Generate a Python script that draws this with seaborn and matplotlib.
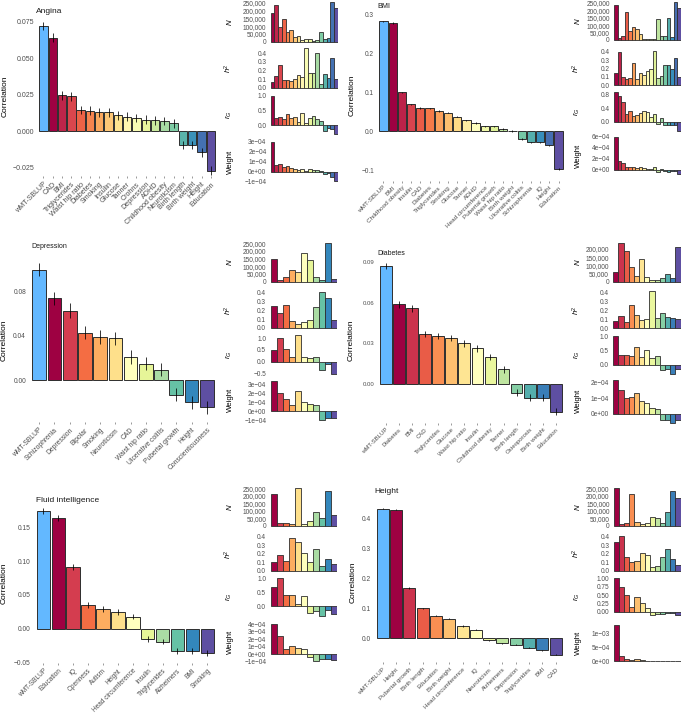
import matplotlib
matplotlib.use("Agg")
import matplotlib.pyplot as plt
import numpy as np
import pandas as pd
import seaborn as sns

# ---- data ---------------------------------------------------------------
angina_traits = ["wMT-SBLUP", "CAD", "BMI", "Triglycerides", "Waist hip ratio", "Diabetes",
                 "Smoking", "Insulin", "Glucose", "Tanner", "Crohns", "Depression", "ADHD",
                 "Childhood obesity", "Neuroticism", "Birth length", "Birth weight", "Height",
                 "Education"]
angina_cor = [0.072, 0.064, 0.0245, 0.024, 0.0145, 0.014, 0.013, 0.013, 0.011, 0.010, 0.009,
              0.008, 0.0075, 0.007, 0.0055, -0.0095, -0.0095, -0.0145, -0.027]
angina_err = [0.003, 0.003, 0.003, 0.003, 0.003, 0.003, 0.003, 0.003, 0.003, 0.003, 0.003,
              0.003, 0.003, 0.003, 0.003, 0.003, 0.003, 0.003, 0.003]
angina_n = [186000, 233000, 92000, 143000, 65000, 75000, 30000, 38000, 12000, 19000, 16000,
            7000, 12000, 63000, 20000, 26000, 253000, 215000]
angina_h2 = [0.065, 0.14, 0.26, 0.09, 0.085, 0.075, 0.10, 0.145, 0.12, 0.46, 0.17, 0.17, 0.40,
             0.04, 0.165, 0.115, 0.34, 0.10]
angina_rg = [1.0, 0.23, 0.26, 0.19, 0.36, 0.25, 0.27, 0.11, 0.40, 0.08, 0.23, 0.32, 0.19, 0.15,
             -0.20, -0.11, -0.12, -0.32]
angina_weight = [2.95e-4, 0.7e-4, 0.8e-4, 0.45e-4, 0.6e-4, 0.35e-4, 0.25e-4, 0.15e-4, 0.3e-4,
                 0.1e-4, 0.25e-4, 0.2e-4, 0.2e-4, 0.1e-4, -0.25e-4, -0.15e-4, -0.5e-4, -0.9e-4]

bmi_traits = ["wMT-SBLUP", "BMI", "Childhood obesity", "Insulin", "CAD", "Diabetes",
              "Triglycerides", "Smoking", "Glucose", "Tanner", "ADHD", "Head circumference",
              "Pubertal growth", "Waist hip ratio", "Birth weight", "Ulcerative colitis",
              "Schizophrenia", "IQ", "Height", "Education"]
bmi_cor = [0.281, 0.277, 0.099, 0.068, 0.059, 0.058, 0.051, 0.047, 0.037, 0.027, 0.020, 0.012,
           0.012, 0.005, 0.0, -0.020, -0.029, -0.029, -0.037, -0.097]
bmi_err = [0.002, 0.002, 0.002, 0.002, 0.002, 0.002, 0.002, 0.002, 0.002, 0.002, 0.002, 0.002,
           0.002, 0.002, 0.002, 0.002, 0.002, 0.002, 0.002, 0.002]
bmi_n = [232000, 12000, 30000, 185000, 62000, 90000, 73000, 38000, 10000, 5000, 8000, 10000,
         142000, 25000, 28000, 150000, 18000, 253000, 215000]
bmi_h2 = [0.14, 0.40, 0.10, 0.07, 0.09, 0.26, 0.07, 0.15, 0.12, 0.17, 0.19, 0.41, 0.09, 0.11,
          0.24, 0.245, 0.19, 0.33, 0.10]
bmi_rg = [0.87, 0.75, 0.60, 0.22, 0.33, 0.18, 0.20, 0.27, 0.32, 0.30, 0.16, 0.22, -0.05, 0.11,
          -0.08, -0.08, -0.10, -0.08, -0.25]
bmi_weight = [6.0e-4, 1.7e-4, 1.3e-4, 0.5e-4, 0.6e-4, 0.6e-4, 0.35e-4, 0.5e-4, 0.3e-4, 0.25e-4,
              0.2e-4, 0.5e-4, -0.3e-4, 0.2e-4, -0.2e-4, -0.3e-4, -0.1e-4, -0.2e-4, -0.8e-4]

depression_traits = ["wMT-SBLUP", "Schizophrenia", "Depression", "Bipolar", "Smoking",
                     "Neuroticism", "CAD", "Waist hip ratio", "Ulcerative colitis",
                     "Pubertal growth", "Height", "Conscientiousness"]
depression_cor = [0.100, 0.074, 0.063, 0.043, 0.039, 0.038, 0.021, 0.015, 0.0095, -0.013,
                  -0.020, -0.0245]
depression_err = [0.006, 0.006, 0.007, 0.006, 0.006, 0.006, 0.006, 0.006, 0.006, 0.006, 0.006,
                  0.006]
depression_n = [150000, 13000, 29000, 74000, 62000, 185000, 142000, 28000, 12000, 253000, 17000]
depression_h2 = [0.245, 0.17, 0.255, 0.075, 0.04, 0.065, 0.09, 0.24, 0.41, 0.34, 0.085]
depression_rg = [0.50, 1.0, 0.53, 0.22, 1.15, 0.22, 0.15, 0.20, -0.35, -0.10, -0.55]
depression_weight = [3.4e-4, 2.0e-4, 1.4e-4, 0.65e-4, 2.3e-4, 1.0e-4, 0.75e-4, 0.65e-4,
                     -1.0e-4, -0.75e-4, -0.8e-4]

diabetes_traits = ["wMT-SBLUP", "Diabetes", "BMI", "CAD", "Triglycerides", "Glucose",
                   "Waist hip ratio", "Insulin", "Childhood obesity", "Tanner", "Birth length",
                   "Osteoporosis", "Birth weight", "Education"]
diabetes_cor = [0.0873, 0.059, 0.056, 0.037, 0.0355, 0.034, 0.030, 0.0265, 0.020, 0.011,
                -0.0065, -0.010, -0.010, -0.0205]
diabetes_err = [0.0025, 0.0025, 0.0025, 0.0025, 0.0025, 0.0025, 0.0025, 0.0025, 0.0025, 0.0025,
                0.0025, 0.0025, 0.0025, 0.0025]
diabetes_n = [60000, 235000, 185000, 90000, 38000, 142000, 30000, 12000, 10000, 22000, 50000,
              26000, 215000]
diabetes_h2 = [0.085, 0.14, 0.07, 0.26, 0.145, 0.09, 0.105, 0.41, 0.12, 0.165, 0.13, 0.115, 0.10]
diabetes_rg = [1.0, 0.35, 0.35, 0.30, 0.61, 0.26, 0.50, 0.24, 0.29, -0.20, -0.15, -0.32, -0.15]
diabetes_weight = [2.15e-4, 1.5e-4, 1.0e-4, 1.1e-4, 1.3e-4, 0.8e-4, 0.7e-4, 0.4e-4, 0.3e-4,
                   -0.35e-4, -0.4e-4, -0.55e-4, -0.35e-4]

fluid_traits = ["wMT-SBLUP", "Education", "IQ", "Openness", "Autism", "Height",
                "Head circumference", "Insulin", "Triglycerides", "Alzheimers", "BMI", "Smoking"]
fluid_cor = [0.174, 0.164, 0.091, 0.035, 0.029, 0.025, 0.018, -0.015, -0.019, -0.033, -0.033,
             -0.036]
fluid_err = [0.004, 0.004, 0.004, 0.004, 0.004, 0.004, 0.004, 0.004, 0.004, 0.004, 0.004, 0.004]
fluid_n = [215000, 17000, 17000, 10000, 253000, 10000, 30000, 90000, 54000, 235000, 74000]
fluid_h2 = [0.10, 0.19, 0.11, 0.38, 0.34, 0.21, 0.10, 0.26, 0.055, 0.14, 0.075]
fluid_rg = [0.70, 1.0, 0.42, 0.42, 0.10, 0.37, -0.25, -0.18, -0.35, -0.13, -0.28]
fluid_weight = [4.1e-4, 2.4e-4, 0.75e-4, 1.1e-4, 0.85e-4, 0.7e-4, -0.4e-4, -0.85e-4, -0.65e-4,
                -0.65e-4, -0.7e-4]

height_traits = ["wMT-SBLUP", "Height", "Pubertal growth", "Birth length", "Education",
                 "Birth weight", "Head circumference", "IQ", "Neuroticism", "Alzheimers",
                 "Depression", "Triglycerides", "BMI", "CAD"]
height_cor = [0.432, 0.428, 0.168, 0.100, 0.075, 0.065, 0.041, 0.029, -0.007, -0.017, -0.021,
              -0.031, -0.040, -0.055]
height_err = [0.002, 0.002, 0.002, 0.002, 0.002, 0.002, 0.002, 0.002, 0.002, 0.002, 0.002,
              0.002, 0.002, 0.002]
height_n = [253000, 12000, 22000, 215000, 26000, 10000, 17000, 62000, 54000, 17000, 90000,
            235000, 185000]
height_h2 = [0.34, 0.41, 0.165, 0.10, 0.115, 0.21, 0.19, 0.04, 0.055, 0.165, 0.26, 0.14, 0.065]
height_rg = [1.0, 0.75, 0.51, 0.14, 0.44, 0.26, 0.11, -0.10, -0.07, -0.07, -0.04, -0.05, -0.10]
height_weight = [1.35e-3, 1.7e-4, 0.9e-4, 0.5e-4, 0.7e-4, 0.4e-4, 0.1e-4, -0.1e-4, -0.05e-4,
                 -0.05e-4, -0.05e-4, -0.1e-4, -0.1e-4]

# ---- layout (pixels, measured from the top-left of a 681x714 canvas) ----
W, H = 681, 714
SBLUP_BLUE = "#63B8FF"
EDGE = "#2E2E2E"
TICK_GREY = "#4D4D4D"
N_TICKS = [0, 50000, 100000, 150000, 200000, 250000]
H2_TICKS = [0.0, 0.1, 0.2, 0.3, 0.4]

panels = [
    dict(title="Angina", traits=angina_traits, cor=angina_cor, err=angina_err,
         n=angina_n, h2=angina_h2, rg=angina_rg, weight=angina_weight,
         main_x=(39.3, 215.0), main_cal=((0.075, 21.7), (-0.025, 167.7)),
         main_ylim=(-0.031, 0.0785), main_ticks=[-0.025, 0.0, 0.025, 0.05, 0.075], main_dec=3,
         title_xy=(36, 11.7), title_size=6.0, ylab_x=5, fs=5.0, xfs=5.1,
         side_x=(270.7, 337.7), side_lab_x=234,
         cal=dict(n=((250000, 2.7), (0, 41.7)), h2=((0.4, 53.3), (0, 87.7)),
                  rg=((1.0, 95.7), (0, 125)), weight=((3e-4, 141.3), (-1e-4, 182))),
         ticks=dict(n=N_TICKS, h2=H2_TICKS, rg=[0.0, 0.5, 1.0],
                    weight=[-1e-4, 0, 1e-4, 2e-4, 3e-4]), rg_dec=1),
    dict(title="BMI", traits=bmi_traits, cor=bmi_cor, err=bmi_err,
         n=bmi_n, h2=bmi_h2, rg=bmi_rg, weight=bmi_weight,
         main_x=(379.3, 562.7), main_cal=((0.3, 14.0), (-0.1, 170.0)),
         main_ylim=(-0.127, 0.31), main_ticks=[-0.1, 0.0, 0.1, 0.2, 0.3], main_dec=1,
         title_xy=(377.7, 6), title_size=5.2, ylab_x=352, fs=4.7, xfs=4.6,
         side_x=(614, 680.5), side_lab_x=582,
         cal=dict(n=((250000, 2.7), (0, 40)), h2=((0.4, 51.7), (0, 85)),
                  rg=((0.8, 94.7), (0, 122)), weight=((6e-4, 136.7), (0, 170))),
         ticks=dict(n=N_TICKS, h2=H2_TICKS, rg=[0.0, 0.4, 0.8],
                    weight=[0, 2e-4, 4e-4, 6e-4]), rg_dec=1),
    dict(title="Depression", traits=depression_traits, cor=depression_cor, err=depression_err,
         n=depression_n, h2=depression_h2, rg=depression_rg, weight=depression_weight,
         main_x=(32.3, 213.7), main_cal=((0.08, 291.7), (0.0, 380.3)),
         main_ylim=(-0.038, 0.111), main_ticks=[0.0, 0.04, 0.08], main_dec=2,
         title_xy=(31, 247), title_size=5.0, ylab_x=4, fs=4.8, xfs=4.9,
         side_x=(270.7, 336.7), side_lab_x=234,
         cal=dict(n=((250000, 243.3), (0, 281.7)), h2=((0.4, 292.7), (0, 328)),
                  rg=((1.0, 338.3), (-0.5, 373.3)), weight=((3e-4, 384.3), (-1e-4, 420))),
         ticks=dict(n=N_TICKS, h2=H2_TICKS, rg=[-0.5, 0.0, 0.5, 1.0],
                    weight=[-1e-4, 0, 1e-4, 2e-4, 3e-4]), rg_dec=1),
    dict(title="Diabetes", traits=diabetes_traits, cor=diabetes_cor, err=diabetes_err,
         n=diabetes_n, h2=diabetes_h2, rg=diabetes_rg, weight=diabetes_weight,
         main_x=(380.0, 561.7), main_cal=((0.09, 262.3), (0.0, 384.0)),
         main_ylim=(-0.0286, 0.093), main_ticks=[0.0, 0.03, 0.06, 0.09], main_dec=2,
         title_xy=(377.7, 253), title_size=5.0, ylab_x=351, fs=4.3, xfs=4.3,
         side_x=(613.3, 680.5), side_lab_x=582,
         cal=dict(n=((200000, 249), (0, 282)), h2=((0.4, 292.3), (0, 328.3)),
                  rg=((1.0, 336), (0, 364.7)), weight=((2e-4, 382.3), (0, 414))),
         ticks=dict(n=[0, 50000, 100000, 150000, 200000], h2=H2_TICKS, rg=[0.0, 0.5, 1.0],
                    weight=[0, 1e-4, 2e-4]), rg_dec=1),
    dict(title="Fluid intelligence", traits=fluid_traits, cor=fluid_cor, err=fluid_err,
         n=fluid_n, h2=fluid_h2, rg=fluid_rg, weight=fluid_weight,
         main_x=(36.7, 214.0), main_cal=((0.15, 527.3), (0.0, 628.7)),
         main_ylim=(-0.051, 0.184), main_ticks=[-0.05, 0.0, 0.05, 0.10, 0.15], main_dec=2,
         title_xy=(36, 500.7), title_size=6.0, ylab_x=4, fs=4.8, xfs=4.7,
         side_x=(270.7, 336.7), side_lab_x=234,
         cal=dict(n=((250000, 488.3), (0, 526)), h2=((0.4, 536.7), (0, 570.7)),
                  rg=((1.0, 578.3), (0, 606.3)), weight=((4e-4, 624.3), (-1e-4, 662))),
         ticks=dict(n=N_TICKS, h2=H2_TICKS, rg=[0.0, 0.5, 1.0],
                    weight=[-1e-4, 0, 1e-4, 2e-4, 3e-4, 4e-4]), rg_dec=1),
    dict(title="Height", traits=height_traits, cor=height_cor, err=height_err,
         n=height_n, h2=height_h2, rg=height_rg, weight=height_weight,
         main_x=(376.7, 561.7), main_cal=((0.4, 518.3), (0.0, 638.3)),
         main_ylim=(-0.08, 0.455), main_ticks=[0.0, 0.1, 0.2, 0.3, 0.4], main_dec=1,
         title_xy=(374, 491.7), title_size=6.0, ylab_x=352.7, fs=4.8, xfs=4.5,
         side_x=(614, 680.5), side_lab_x=582,
         cal=dict(n=((250000, 488.3), (0, 526)), h2=((0.4, 536.7), (0, 570.7)),
                  rg=((1.0, 578.3), (0, 611.7)), weight=((1e-3, 634), (0, 661))),
         ticks=dict(n=N_TICKS, h2=H2_TICKS, rg=[0.0, 0.25, 0.5, 0.75, 1.0],
                    weight=[0, 5e-4, 1e-3]), rg_dec=2),
]

SIDE_LABELS = dict(n="$N$", h2="$h^2$", rg="$r_G$", weight="Weight")


def spectral(k):
    return [matplotlib.colors.to_hex(c) for c in plt.get_cmap("Spectral")(np.linspace(0, 1, k))]


def minus(s):
    return s.replace("-", "\u2212")


def add_box(fig, bar_lo, bar_hi, n_bars, bar_width, cal, ylim):
    # x: bars span bar_lo..bar_hi in pixels; axis runs -0.6 .. n-0.4 like ggplot
    span = (n_bars - 1) + bar_width
    ppu = (bar_hi - bar_lo) / span
    left = bar_lo - (0.6 - bar_width / 2) * ppu
    right = bar_hi + (0.6 - bar_width / 2) * ppu
    (v1, p1), (v2, p2) = cal
    scale = (p2 - p1) / (v1 - v2)
    top = p1 - (ylim[1] - v1) * scale
    bottom = p2 + (v2 - ylim[0]) * scale
    ax = fig.add_axes([left / W, 1 - bottom / H, (right - left) / W, (bottom - top) / H])
    ax.set_xlim(-0.6, n_bars - 0.4)
    ax.set_ylim(*ylim)
    return ax, left, right


def style(ax, fs):
    sns.despine(ax=ax, left=True, bottom=True)
    ax.set_facecolor("white")
    ax.grid(False)
    ax.tick_params(axis="y", length=1.6, width=0.4, color=TICK_GREY, labelsize=fs,
                   labelcolor=TICK_GREY, pad=1.2)


sns.set_theme(style="white")
plt.rcParams["font.family"] = ["Liberation Sans", "DejaVu Sans"]
plt.rcParams["mathtext.fontset"] = "custom"
plt.rcParams["mathtext.it"] = "Liberation Sans:italic"
plt.rcParams["mathtext.rm"] = "Liberation Sans"

fig = plt.figure(figsize=(W / 100, H / 100), dpi=100)

for p in panels:
    traits = p["traits"]
    k = len(traits)

    # main correlation panel
    ax, left, right = add_box(fig, *p["main_x"], k, 0.9, p["main_cal"], p["main_ylim"])
    df = pd.DataFrame({"trait": traits, "cor": p["cor"]})
    sns.barplot(data=df, x="trait", y="cor", hue="trait", order=traits, hue_order=traits,
                palette=[SBLUP_BLUE] + spectral(k - 1), saturation=1, width=0.9,
                edgecolor=EDGE, linewidth=0.7, legend=False, errorbar=None, ax=ax)
    ax.errorbar(np.arange(k), p["cor"], yerr=p["err"], fmt="none", ecolor="black",
                elinewidth=0.55, capsize=0, zorder=5)
    ax.set_xlim(-0.6, k - 0.4)
    ax.set_ylim(*p["main_ylim"])
    style(ax, p["fs"])
    ax.set_yticks(p["main_ticks"])
    ax.set_yticklabels([minus(f"{t:.{p['main_dec']}f}") for t in p["main_ticks"]])
    ax.tick_params(axis="x", length=1.6, width=0.4, color=TICK_GREY, labelsize=p["xfs"],
                   labelcolor=TICK_GREY, pad=1.5, bottom=True)
    ax.set_xticks(np.arange(k))
    ax.set_xticklabels(traits, rotation=45, ha="right", rotation_mode="anchor")
    ax.set_xlabel("")
    ax.set_ylabel("Correlation", fontsize=6.0, color="black")
    ax.yaxis.set_label_coords((p["ylab_x"] + 4 - left) / (right - left), 0.5)
    fig.text(p["title_xy"][0] / W, 1 - p["title_xy"][1] / H, p["title"], ha="left",
             va="center", fontsize=p["title_size"], color="#1A1A1A")

    # side panels: N, h2, rG, weight for the comparison traits
    side_traits = traits[1:]
    m = len(side_traits)
    cols = spectral(m)
    for key in ["n", "h2", "rg", "weight"]:
        vals = p[key]
        lo, hi = min(0, min(vals)), max(0, max(vals))
        pad = 0.05 * (hi - lo)
        ylim = (lo - pad, hi + pad)
        sax, sl, sr = add_box(fig, *p["side_x"], m, 1.0, p["cal"][key], ylim)
        sdf = pd.DataFrame({"trait": side_traits, "v": vals})
        sns.barplot(data=sdf, x="trait", y="v", hue="trait", order=side_traits,
                    hue_order=side_traits, palette=cols, saturation=1, width=1.0,
                    edgecolor=EDGE, linewidth=0.6, legend=False, errorbar=None, ax=sax)
        sax.set_xlim(-0.6, m - 0.4)
        sax.set_ylim(*ylim)
        style(sax, 4.7)
        sax.set_xticks([])
        sax.set_xlabel("")
        ticks = p["ticks"][key]
        sax.set_yticks(ticks)
        if key == "n":
            labels = [f"{int(t):,}" for t in ticks]
        elif key == "h2":
            labels = [f"{t:.1f}" for t in ticks]
        elif key == "rg":
            labels = [minus(f"{t:.{p['rg_dec']}f}") for t in ticks]
        else:
            labels = [minus(f"{t:.0e}") for t in ticks]
        sax.set_yticklabels(labels)
        sax.set_ylabel(SIDE_LABELS[key], fontsize=5.6, color="black")
        sax.yaxis.set_label_coords((p["side_lab_x"] - sl) / (sr - sl), 0.5)

fig.savefig("out.png", dpi=100)
plt.close(fig)
